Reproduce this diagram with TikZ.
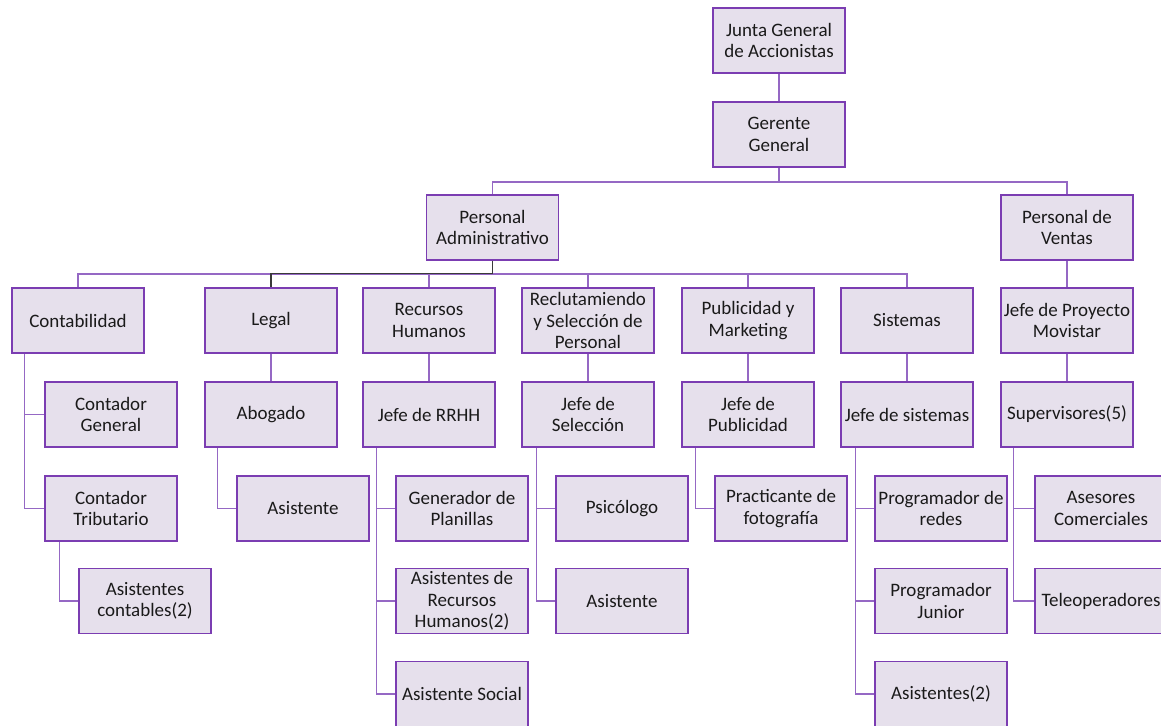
\documentclass[tikz,border=0pt]{standalone}
\usepackage{fontspec}
\setmainfont{Carlito}
\definecolor{boxborder}{HTML}{7B3DB2}
\definecolor{boxfill}{HTML}{E6E0EC}
\definecolor{connline}{HTML}{9568C4}
\definecolor{darkline}{HTML}{3A3A3A}
\definecolor{txt}{HTML}{1A1A1A}
\tikzset{
  box/.style={draw=boxborder, fill=boxfill, line width=1.5pt, minimum width=132pt, minimum height=65pt,
    inner sep=0pt, align=center, text=txt, font=\fontsize{19}{21.5}\selectfont},
  conn/.style={draw=connline, line width=1.5pt},
  dconn/.style={draw=darkline, line width=1.5pt},
}
\begin{document}
\begin{tikzpicture}[x=1pt,y=-1pt]
\useasboundingbox (0,0) rectangle (1161,725);
\clip (0,0) rectangle (1161,725);
% level 0-1
\node[box] (junta) at (779,40.5) {Junta General\\de Accionistas};
\node[box] (ger) at (779,134.5) {Gerente\\General};
\node[box] (pa) at (492.5,227.5) {Personal\\Administrativo};
\node[box] (pv) at (1067,227.5) {Personal de\\Ventas};
% row 2
\node[box] (cont) at (78,320.5) {Contabilidad};
\node[box] (legal) at (271,320.5) {Legal};
\node[box] (rh) at (429,320.5) {Recursos\\Humanos};
\node[box] (rec) at (588,320.5) {Reclutamiendo\\y Selección de\\Personal};
\node[box] (pub) at (748,320.5) {Publicidad y\\Marketing};
\node[box] (sis) at (907,320.5) {Sistemas};
\node[box] (jpm) at (1067,320.5) {Jefe de Proyecto\\Movistar};
% row 3
\node[box] (cg) at (111,414.5) {Contador\\General};
\node[box] (abo) at (271,414.5) {Abogado};
\node[box] (jrh) at (429,414.5) {Jefe de RRHH};
\node[box] (jsel) at (588,414.5) {Jefe de\\Selección};
\node[box] (jpub) at (748,414.5) {Jefe de\\Publicidad};
\node[box] (jsis) at (907,414.5) {Jefe de sistemas};
\node[box] (sup) at (1067,414.5) {Supervisores(5)};
% row 4
\node[box] (ct) at (111,508.5) {Contador\\Tributario};
\node[box] (asl) at (303,508.5) {Asistente};
\node[box] (gen) at (462,508.5) {Generador de\\Planillas};
\node[box] (psi) at (622,508.5) {Psicólogo};
\node[box] (prac) at (781,508.5) {Practicante de\\fotografía};
\node[box] (pred) at (941,508.5) {Programador de\\redes};
\node[box] (ase) at (1101,508.5) {Asesores\\Comerciales};
% row 5
\node[box] (acont) at (145,601) {Asistentes\\contables(2)};
\node[box] (arh) at (462,601) {Asistentes de\\Recursos\\Humanos(2)};
\node[box] (asel) at (622,601) {Asistente};
\node[box] (pjun) at (941,601) {Programador\\Junior};
\node[box] (tele) at (1101,601) {Teleoperadores};
% row 6
\node[box] (asoc) at (462,694) {Asistente Social};
\node[box] (as2) at (941,694) {Asistentes(2)};

% connectors top
\draw[conn] (junta.south) -- (ger.north);
\draw[conn] (ger.south) -- ++(0,14) -| (pa.north);
\draw[conn] (ger.south) -- ++(0,14) -| (pv.north);
\draw[conn] (pv.south) -- (jpm.north);
\foreach \n in {cont,legal,rh,rec,pub,sis}{
  \draw[conn] (pa.south) -- ++(0,13) -| (\n.north);
}
\draw[dconn] (pa.south) -- ++(0,12.5) -| (legal.north);
% vertical chains
\draw[conn] (legal.south) -- (abo.north);
\draw[conn] (rh.south) -- (jrh.north);
\draw[conn] (rec.south) -- (jsel.north);
\draw[conn] (pub.south) -- (jpub.north);
\draw[conn] (sis.south) -- (jsis.north);
\draw[conn] (jpm.south) -- (sup.north);
% side branches
\draw[conn] ([xshift=13pt]cont.south west) |- (cg.west);
\draw[conn] ([xshift=13pt]cont.south west) |- (ct.west);
\draw[conn] ([xshift=15pt]ct.south west) |- (acont.west);
\draw[conn] ([xshift=13pt]abo.south west) |- (asl.west);
\draw[conn] ([xshift=14pt]jrh.south west) |- (gen.west);
\draw[conn] ([xshift=14pt]jrh.south west) |- (arh.west);
\draw[conn] ([xshift=14pt]jrh.south west) |- (asoc.west);
\draw[conn] ([xshift=15pt]jsel.south west) |- (psi.west);
\draw[conn] ([xshift=15pt]jsel.south west) |- (asel.west);
\draw[conn] ([xshift=14pt]jpub.south west) |- (prac.west);
\draw[conn] ([xshift=15pt]jsis.south west) |- (pred.west);
\draw[conn] ([xshift=15pt]jsis.south west) |- (pjun.west);
\draw[conn] ([xshift=15pt]jsis.south west) |- (as2.west);
\draw[conn] ([xshift=13pt]sup.south west) |- (ase.west);
\draw[conn] ([xshift=13pt]sup.south west) |- (tele.west);
\end{tikzpicture}
\end{document}
